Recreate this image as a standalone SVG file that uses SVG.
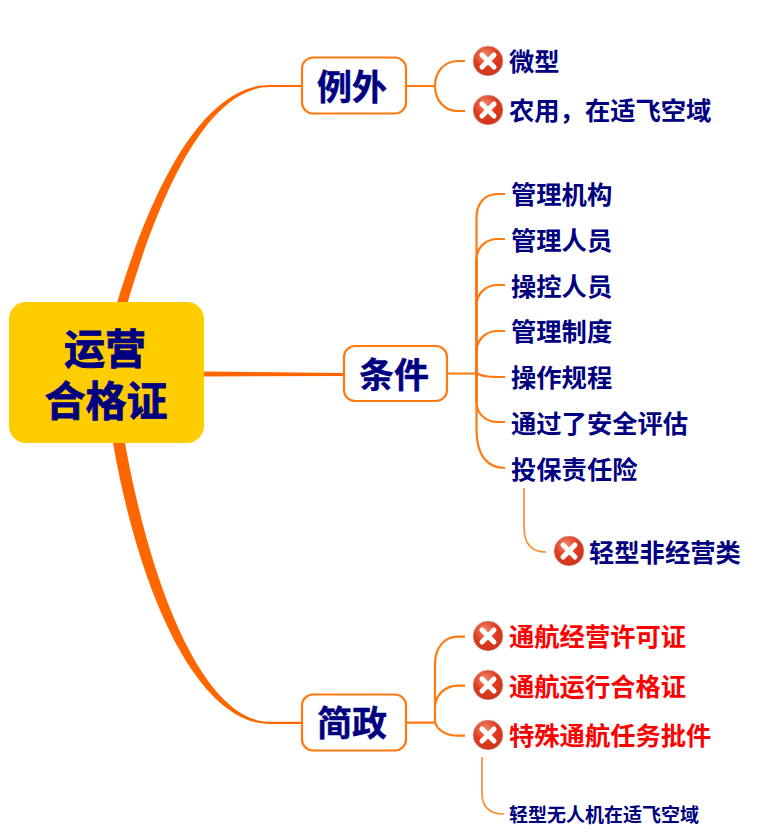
<svg xmlns="http://www.w3.org/2000/svg" width="758" height="833" viewBox="0 0 758 833">
<style>
text{font-family:"Noto Sans CJK SC","Noto Sans CJK JP",sans-serif;font-weight:700;fill:#000080}
.t{font-size:25.3px}
.r{fill:#ff0000}
.m{font-size:35px;text-anchor:middle;stroke:#000080;stroke-width:.4}
.c{font-size:41px;text-anchor:middle;stroke:#000080;stroke-width:.8}
.s{font-size:19px}
.l{fill:none;stroke:#ff7a10;stroke-width:2.2}
.v{fill:none;stroke:#ff7010;stroke-width:2.6}
.f{fill:none;stroke:#ff8a2a;stroke-width:1.6}
.b{fill:#fff;stroke:#ff7a10;stroke-width:2.2}
.x{stroke:#fff;stroke-width:5;stroke-linecap:round;fill:none}
</style>
<defs>
<radialGradient id="g" cx="0.4" cy="0.3" r="0.8"><stop offset="0" stop-color="#ee8a70"/><stop offset="0.5" stop-color="#e03a1c"/><stop offset="1" stop-color="#c8321a"/></radialGradient>
<g id="err"><circle r="15" fill="url(#g)" stroke="#c8c8c8" stroke-width="0.6"/><path class="x" d="M-6-6L6 6M6-6L-6 6"/></g>
</defs>
<g id="connectors">
<path d="M117 303C151 190 202 84.900 270 84.900H302V87.100H270C208 87.100 160 192 127.500 303Z" fill="#ff6600"/>
<path d="M204 371.500L344 373V376L204 376.500Z" fill="#ff6600"/>
<path d="M113 443C139 592 197 724 270 724H302V721.800H270C204 721.800 151 588 125 443Z" fill="#ff6600"/>
<path class="l" d="M406 86H435M465 61H458C444 61 435 72 435 86C435 100 444 111 458 111H465"/>
<path class="l" d="M447 373.500H476.500M505 194H498C484 194 476.500 204 476.500 218V430C476.500 456 488 468 505 468"/>
<path class="l" d="M505 239H498C486 239 476.500 247 476.500 260M505 285H498C486 285 476.500 293 476.500 306M505 331H498C486 331 476.500 339 476.500 352M476.500 373C482 377 492 377 505 377M505 422H498C486 422 476.500 414 476.500 402"/>
<path class="v" d="M476.500 260V402"/>
<path class="f" d="M524 488V527Q524 552 546 552"/>
<path class="l" d="M406 722.700H435M465 636.700H458C444 636.700 435 648 435 664V722M465 685.700H458C446 685.700 435 694 435 708M435 722C437 730 446 735.700 458 735.700H465"/>
<path class="f" d="M482 757V793Q482 814 504 814"/>
</g>
<g id="center"><rect x="9" y="302" width="195" height="141" rx="17" fill="#ffcc00"/><text class="c"><tspan x="105" y="364">运营</tspan><tspan x="106" y="416">合格证</tspan></text></g>
<g id="liwai"><rect class="b" x="302" y="57.500" width="104" height="56" rx="11"/><text class="m" x="352" y="100">例外</text></g>
<g id="tiaojian"><rect class="b" x="344" y="346" width="103" height="55" rx="11"/><text class="m" x="394" y="388">条件</text></g>
<g id="jianzheng"><rect class="b" x="302" y="694.500" width="104" height="56" rx="11"/><text class="m" x="352" y="736">简政</text></g>
<g id="n1"><use href="#err" x="488" y="61"/><text class="t" x="509" y="71">微型</text></g>
<g id="n2"><use href="#err" x="488" y="110"/><text class="t" x="509" y="120">农用，在适飞空域</text></g>
<g id="n3"><text class="t" x="511" y="204">管理机构</text></g>
<g id="n4"><text class="t" x="511" y="250">管理人员</text></g>
<g id="n5"><text class="t" x="511" y="296">操控人员</text></g>
<g id="n6"><text class="t" x="511" y="341">管理制度</text></g>
<g id="n7"><text class="t" x="511" y="387">操作规程</text></g>
<g id="n8"><text class="t" x="511" y="433">通过了安全评估</text></g>
<g id="n9"><text class="t" x="511" y="478.500">投保责任险</text></g>
<g id="n10"><use href="#err" x="569" y="551"/><text class="t" x="589" y="562">轻型非经营类</text></g>
<g id="n11"><use href="#err" x="488" y="636"/><text class="t r" x="509" y="646">通航经营许可证</text></g>
<g id="n12"><use href="#err" x="488" y="685"/><text class="t r" x="509" y="696">通航运行合格证</text></g>
<g id="n13"><use href="#err" x="488" y="735"/><text class="t r" x="509" y="745">特殊通航任务批件</text></g>
<g id="n14"><text class="s" x="509" y="822">轻型无人机在适飞空域</text></g>
</svg>
